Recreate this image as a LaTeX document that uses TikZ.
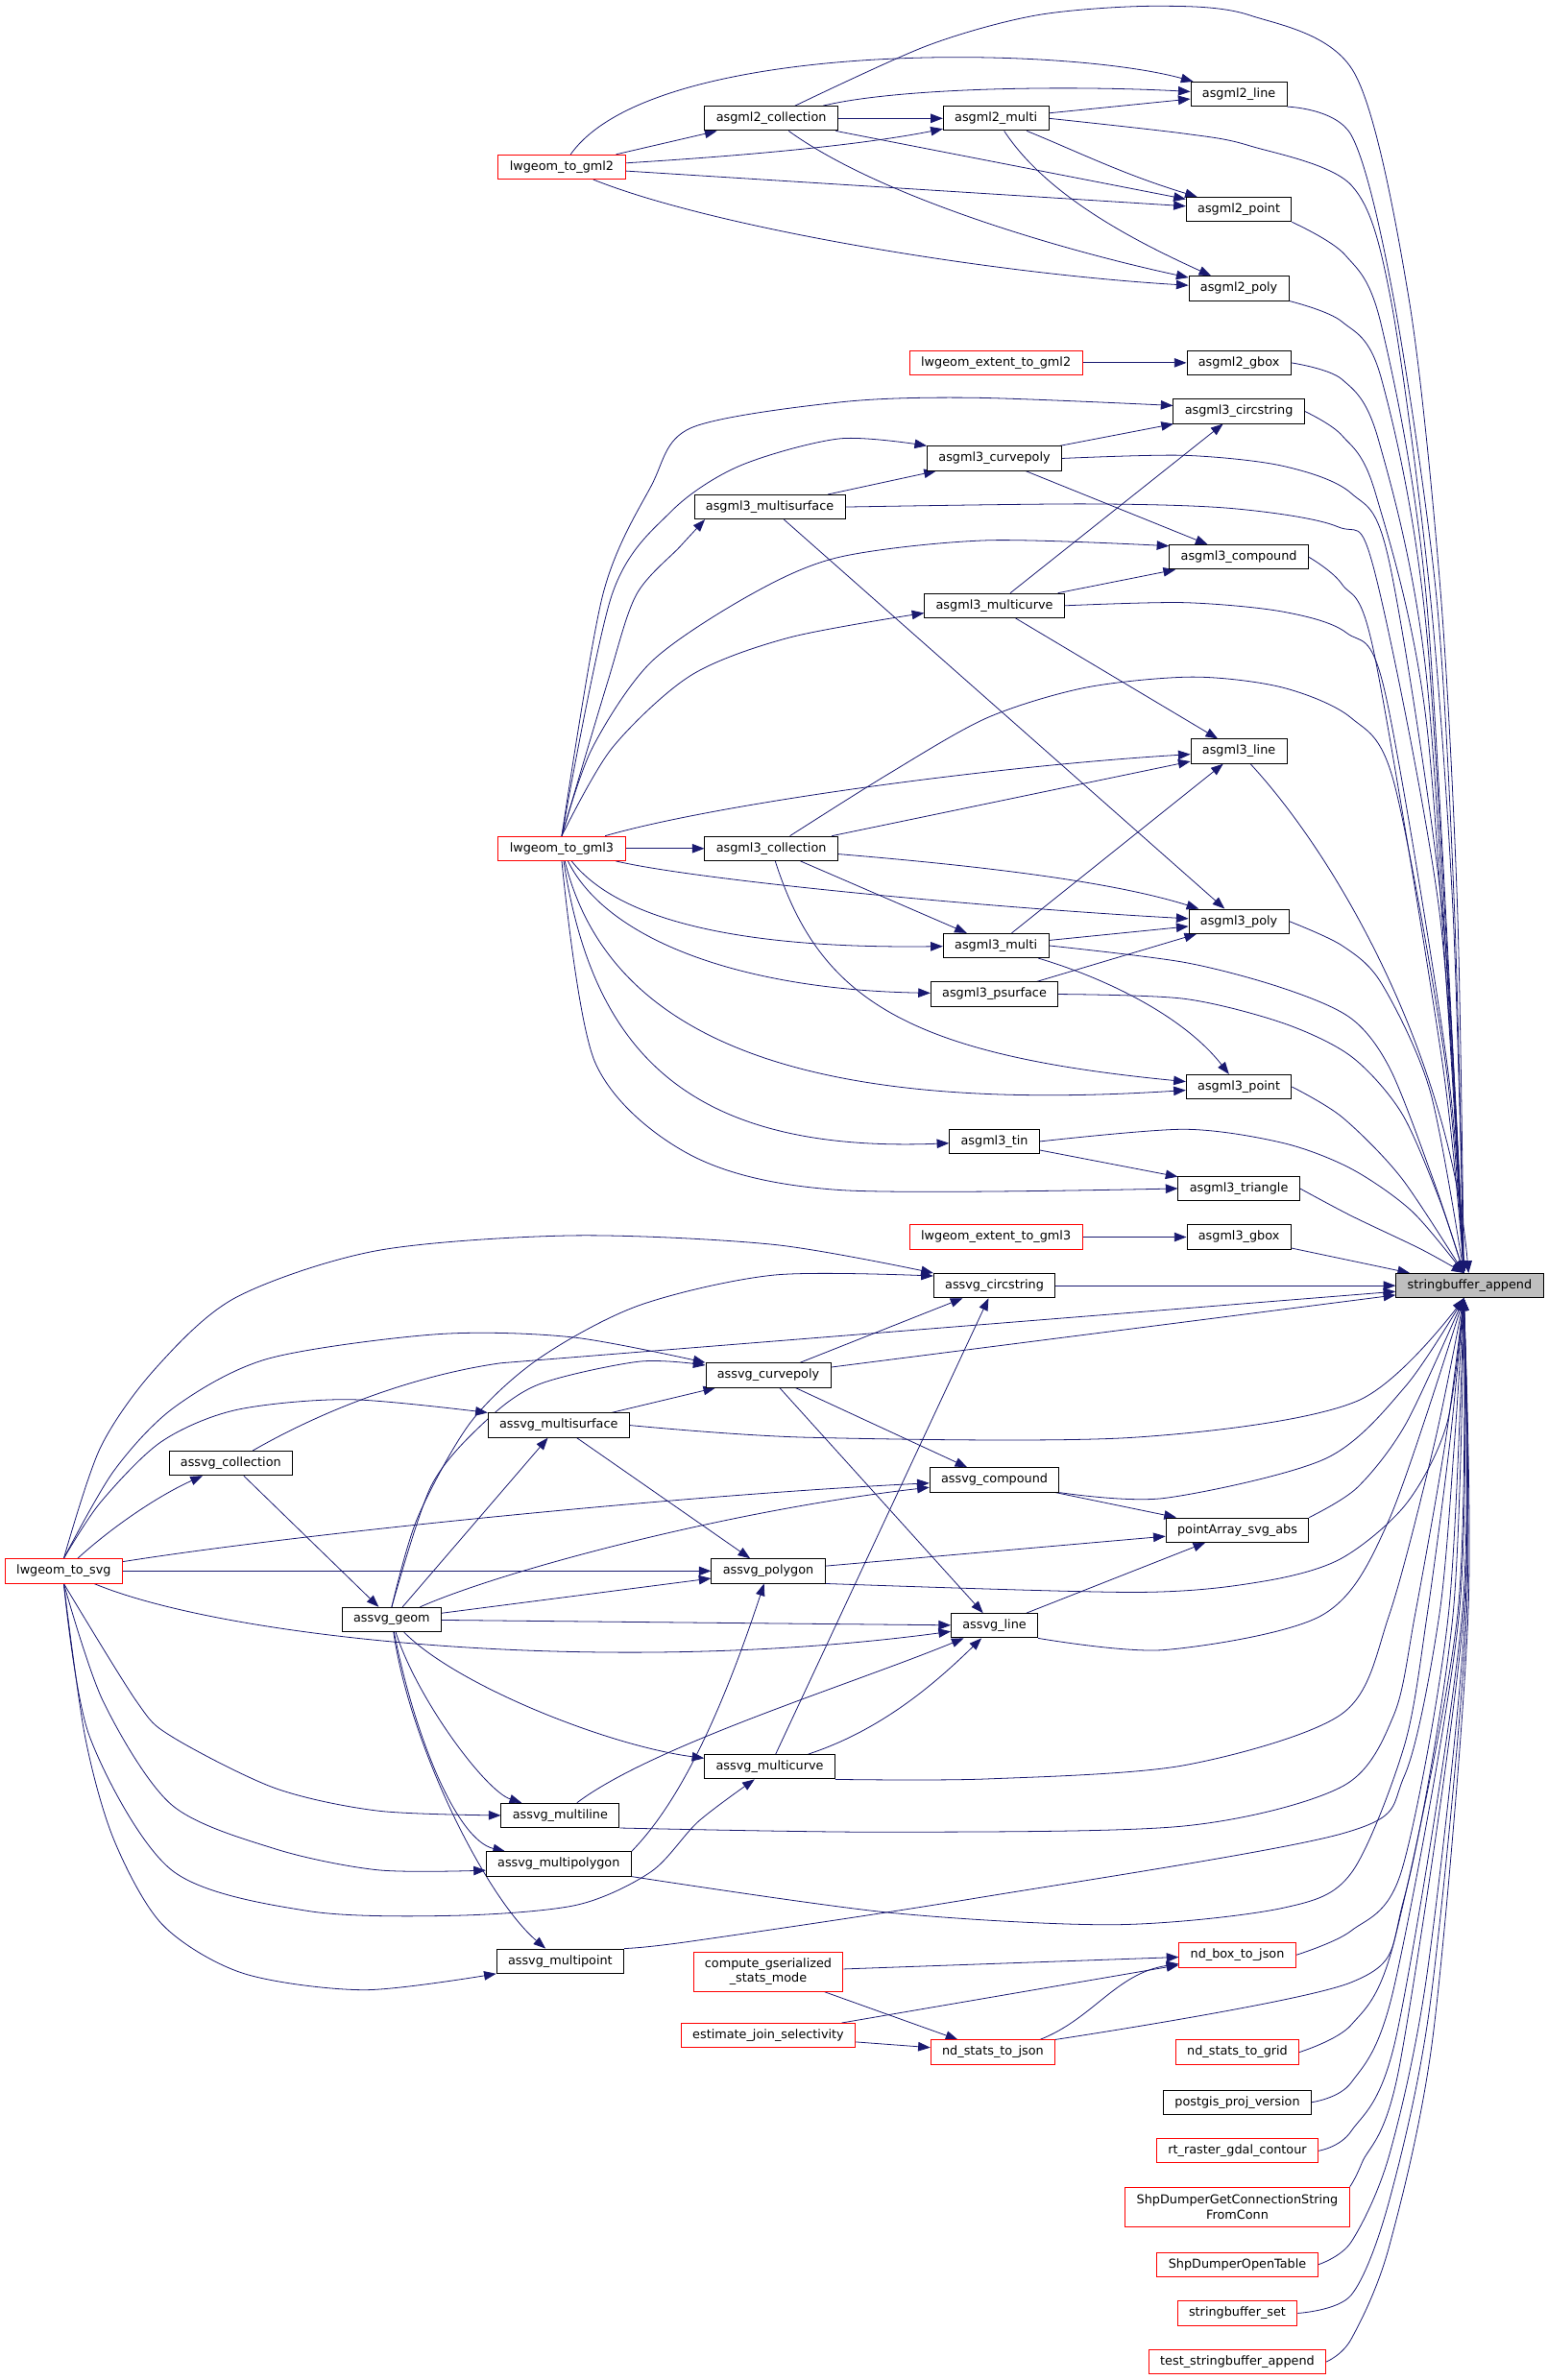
\documentclass[tikz,border=0pt]{standalone}
\usepackage{fontspec}
\setmainfont{DejaVu Sans}
\usetikzlibrary{arrows.meta}
\usetikzlibrary{backgrounds}

\definecolor{edgeblue}{HTML}{191970}
\definecolor{nodered}{HTML}{FF0000}
\definecolor{nodegray}{HTML}{BFBFBF}

\begin{document}
\begin{tikzpicture}[x=1pt, y=-1pt,
  fn/.style={draw=black, fill=white, line width=0.6pt, inner xsep=7.5pt, inner ysep=0pt,
    minimum height=16pt, align=center, font=\fontsize{8.1}{10}\selectfont},
  fnred/.style={fn, draw=nodered},
  call/.style={draw=edgeblue, line width=0.5pt, -{Triangle[length=8pt,width=6pt]}}]

  \useasboundingbox (0,0) rectangle (1019.6,1568);

  \node[fnred] (g2) at (370,110) {lwgeom\_to\_gml2};
  \node[fn] (g2col) at (508,78) {asgml2\_collection};
  \node[fn] (g2multi) at (656,78) {asgml2\_multi};
  \node[fn] (g2line) at (816,62) {asgml2\_line};
  \node[fn] (g2point) at (816,138) {asgml2\_point};
  \node[fn] (g2poly) at (816,190) {asgml2\_poly};
  \node[fnred] (ext2) at (656,239) {lwgeom\_extent\_to\_gml2};
  \node[fn] (g2gbox) at (816,239) {asgml2\_gbox};

  \node[fn] (g3circ) at (816,271) {asgml3\_circstring};
  \node[fn] (g3curvepoly) at (655,302) {asgml3\_curvepoly};
  \node[fn] (g3msurf) at (507,334) {asgml3\_multisurface};
  \node[fn] (g3comp) at (816,367) {asgml3\_compound};
  \node[fn] (g3mcurve) at (655,399) {asgml3\_multicurve};
  \node[fn] (g3line) at (816,495) {asgml3\_line};
  \node[fnred] (g3) at (370,559) {lwgeom\_to\_gml3};
  \node[fn] (g3col) at (508,559) {asgml3\_collection};
  \node[fn] (g3poly) at (816,607) {asgml3\_poly};
  \node[fn] (g3multi) at (656,623) {asgml3\_multi};
  \node[fn] (g3psurf) at (655,655) {asgml3\_psurface};
  \node[fn] (g3point) at (816,716) {asgml3\_point};
  \node[fn] (g3tin) at (655,752) {asgml3\_tin};
  \node[fn] (g3tri) at (816,783) {asgml3\_triangle};
  \node[fnred] (ext3) at (656,815) {lwgeom\_extent\_to\_gml3};
  \node[fn] (g3gbox) at (816,815) {asgml3\_gbox};

  \node[fn, fill=nodegray] (sb) at (968,847) {stringbuffer\_append};

  \node[fn] (svcirc) at (655,847) {assvg\_circstring};
  \node[fn] (svcurvepoly) at (506,906) {assvg\_curvepoly};
  \node[fn] (svmsurf) at (368,939) {assvg\_multisurface};
  \node[fn] (svcol) at (152,964) {assvg\_collection};
  \node[fn] (svcomp) at (655,975) {assvg\_compound};
  \node[fn] (ptabs) at (815,1008) {pointArray\_svg\_abs};
  \node[fnred] (svg) at (42,1035) {lwgeom\_to\_svg};
  \node[fn] (svpoly) at (506,1035) {assvg\_polygon};
  \node[fn] (svgeom) at (258,1067) {assvg\_geom};
  \node[fn] (svline) at (655,1071) {assvg\_line};
  \node[fn] (svmcurve) at (507,1164) {assvg\_multicurve};
  \node[fn] (svmline) at (369,1196) {assvg\_multiline};
  \node[fn] (svmpoly) at (368,1228) {assvg\_multipolygon};
  \node[fn] (svmpoint) at (369,1292) {assvg\_multipoint};

  \node[fnred, minimum height=26pt] (cgsm) at (506,1299) {compute\_gserialized\\\_stats\_mode};
  \node[fnred] (ndbox) at (815,1288) {nd\_box\_to\_json};
  \node[fnred] (ejs) at (506,1341) {estimate\_join\_selectivity};
  \node[fnred] (ndjson) at (654,1352) {nd\_stats\_to\_json};
  \node[fnred] (ndgrid) at (815,1352) {nd\_stats\_to\_grid};
  \node[fn] (projver) at (815,1385) {postgis\_proj\_version};
  \node[fnred] (gdalc) at (815,1417) {rt\_raster\_gdal\_contour};
  \node[fnred, minimum height=26pt] (shpconn) at (815,1454) {ShpDumperGetConnectionString\\FromConn};
  \node[fnred] (shpopen) at (815,1492) {ShpDumperOpenTable};
  \node[fnred] (sbset) at (815,1524) {stringbuffer\_set};
  \node[fnred] (testsb) at (815,1556) {test\_stringbuffer\_append};

  \begin{scope}[on background layer]

  \draw[call] (g2) .. controls (430,25) and (700,30) .. (g2line);
  \draw[call] (g2) -- (g2col);
  \draw[call] (g2) .. controls (500,102) and (570,95) .. (g2multi);
  \draw[call] (g2) -- (g2point);
  \draw[call] (g2) .. controls (470,150) and (650,180) .. (g2poly);
  \draw[call] (g2col) .. controls (590,58) and (700,56) .. (g2line);
  \draw[call] (g2col) -- (g2multi);
  \draw[call] (g2col) -- (g2point);
  \draw[call] (g2col) .. controls (580,130) and (700,165) .. (g2poly);
  \draw[call] (g2multi) -- (g2line);
  \draw[call] (g2multi) .. controls (710,100) and (740,115) .. (g2point);
  \draw[call] (g2multi) .. controls (690,130) and (750,160) .. (g2poly);
  \draw[call] (ext2) -- (g2gbox);

  \draw[call] plot[smooth] coordinates {(g3.north) (397,392) (429,320) (455,282) (553,265) (640,262) (g3circ.175)};
  \draw[call] plot[smooth] coordinates {(g3.north) (403,392) (442,337) (487,307) (553,289) (g3curvepoly.north west)};
  \draw[call] plot[smooth] coordinates {(g3.north) (400,450) (419,392) (448,360) (g3msurf.191)};
  \draw[call] plot[smooth] coordinates {(g3.north) (390,493) (429,436) (494,392) (553,367) (650,356) (g3comp.171)};
  \draw[call] plot[smooth] coordinates {(g3.north) (403,493) (455,445) (520,420) (g3mcurve.186)};
  \draw[call] (g3) .. controls (470,530) and (650,505) .. (g3line);
  \draw[call] (g3) -- (g3col);
  \draw[call] (g3) .. controls (460,580) and (650,598) .. (g3poly);
  \draw[call] (g3) .. controls (410,610) and (500,625) .. (g3multi);
  \draw[call] (g3) .. controls (400,620) and (490,652) .. (g3psurf);
  \draw[call] (g3) .. controls (400,680) and (520,735) .. (g3point);
  \draw[call] (g3) .. controls (390,690) and (450,760) .. (g3tin);
  \draw[call] plot[smooth] coordinates {(g3.south) (392,700) (455,761) (553,784) (g3tri.west)};
  \draw[call] (g3col) -- (g3line);
  \draw[call] (g3col) .. controls (640,570) and (730,580) .. (g3poly);
  \draw[call] (g3col) -- (g3multi);
  \draw[call] (g3col) .. controls (540,660) and (600,695) .. (g3point);
  \draw[call] (g3curvepoly) -- (g3circ);
  \draw[call] (g3curvepoly) -- (g3comp);
  \draw[call] (g3msurf) -- (g3curvepoly);
  \draw[call] (g3msurf) -- (g3poly);
  \draw[call] (g3mcurve) -- (g3comp);
  \draw[call] (g3mcurve) -- (g3circ);
  \draw[call] (g3mcurve) -- (g3line);
  \draw[call] (g3multi) -- (g3poly);
  \draw[call] (g3multi) -- (g3line);
  \draw[call] (g3multi) .. controls (730,645) and (780,670) .. (g3point);
  \draw[call] (g3psurf) -- (g3poly);
  \draw[call] (g3tin) -- (g3tri);
  \draw[call] (ext3) -- (g3gbox);

  \draw[call] plot[smooth] coordinates {(g2col.28) (611,30) (683,10) (760,4) (823,10) (892,48) (928,197) (949,392) (960,600) (sb.115)};
  \draw[call] plot[smooth] coordinates {(g2line.south east) (890,89) (918,197) (946,392) (958,600) (sb.115)};
  \draw[call] plot[smooth] coordinates {(g2multi.east) (780,88) (823,96) (890,122) (916,197) (942,392) (957,600) (sb.115)};
  \draw[call] plot[smooth] coordinates {(g2point.south east) (886,168) (910,215) (940,400) (sb.115)};
  \draw[call] plot[smooth] coordinates {(g2poly.south east) (884,212) (910,250) (940,420) (sb.115)};
  \draw[call] plot[smooth] coordinates {(g2gbox.east) (884,250) (908,290) (940,450) (sb.115)};
  \draw[call] plot[smooth] coordinates {(g3circ.east) (884,287) (906,325) (940,480) (sb.115)};
  \draw[call] plot[smooth] coordinates {(g3curvepoly.east) (780,300) (845,307) (890,325) (915,370) (950,600) (sb.115)};
  \draw[call] plot[smooth] coordinates {(g3msurf.east) (715,332) (812,335) (881,347) (905,375) (948,600) (sb.115)};
  \draw[call] plot[smooth] coordinates {(g3comp.east) (884,385) (905,430) (950,700) (sb.115)};
  \draw[call] plot[smooth] coordinates {(g3mcurve.east) (780,397) (845,403) (887,417) (912,455) (953,700) (sb.115)};
  \draw[call] plot[smooth] coordinates {(g3col.34) (585,510) (650,473) (715,453) (786,446) (845,453) (890,473) (918,515) (952,700) (sb.115)};
  \draw[call] (g3line) .. controls (885,570) and (955,700) .. (sb);
  \draw[call] plot[smooth] coordinates {(g3poly.east) (884,623) (910,648) (942,719) (sb.115)};
  \draw[call] plot[smooth] coordinates {(g3multi.east) (780,634) (845,651) (890,671) (916,705) (945,780) (sb.115)};
  \draw[call] plot[smooth] coordinates {(g3psurf.east) (780,658) (845,674) (890,696) (923,733) (948,790) (sb.115)};
  \draw[call] plot[smooth] coordinates {(g3point.east) (884,736) (923,776) (sb.115)};
  \draw[call] plot[smooth] coordinates {(g3tin.east) (780,744) (845,753) (890,770) (930,798) (sb.115)};
  \draw[call] plot[smooth] coordinates {(g3tri.east) (890,801) (936,823) (sb.115)};
  \draw[call] (g3gbox) -- (sb);

  \draw[call] plot[smooth] coordinates {(svg.north) (66,954) (102,902) (155,855) (248,824) (377,814) (510,820) (svcirc.north west)};
  \draw[call] plot[smooth] coordinates {(svg.north) (75,969) (115,927) (177,895) (288,879) (377,881) (svcurvepoly.north west)};
  \draw[call] plot[smooth] coordinates {(svg.north) (66,990) (106,950) (155,929) (230,922) (svmsurf.north west)};
  \draw[call] (svg) .. controls (75,1005) and (105,985) .. (svcol);
  \draw[call] (svg) .. controls (200,1010) and (450,985) .. (svcomp);
  \draw[call] (svg) -- (svpoly);
  \draw[call] (svg) .. controls (150,1080) and (400,1105) .. (svline);
  \draw[call] plot[smooth] coordinates {(svg.south) (90,1121) (113,1144) (181,1178) (249,1193) (svmline.west)};
  \draw[call] plot[smooth] coordinates {(svg.south) (68,1121) (113,1189) (181,1218) (249,1232) (svmpoly.185)};
  \draw[call] plot[smooth] coordinates {(svg.south) (59,1144) (113,1232) (203,1259) (300,1262) (380,1255) (429,1233) (460,1200) ([xshift=-10pt]svmcurve.south)};
  \draw[call] plot[smooth] coordinates {(svg.south) (56,1144) (75,1212) (107,1268) (160,1300) (240,1311) (svmpoint.south west)};

  \draw[call] plot[smooth] coordinates {(svgeom.north) (275,1000) (310,937) (355,895) (421,860) (510,840) (svcirc.171)};
  \draw[call] plot[smooth] coordinates {(svgeom.north) (284,979) (319,937) (355,912) (421,897) (svcurvepoly.171)};
  \draw[call] (svgeom) -- (svmsurf);
  \draw[call] (svgeom) .. controls (330,1035) and (480,995) .. (svcomp);
  \draw[call] (svgeom) -- (svpoly);
  \draw[call] (svgeom) -- (svline);
  \draw[call] (svgeom) .. controls (300,1110) and (400,1150) .. (svmcurve);
  \draw[call] (svgeom) .. controls (275,1120) and (320,1180) .. (svmline);
  \draw[call] (svgeom) .. controls (272,1140) and (300,1212) .. (svmpoly);
  \draw[call] (svgeom) .. controls (270,1150) and (320,1250) .. (svmpoint);

  \draw[call] (svcol) -- (svgeom);
  \draw[call] (svcol) .. controls (220,925) and (280,905) .. (330,898) -- (sb);
  \draw[call] (svmsurf) -- (svcurvepoly);
  \draw[call] (svmsurf) -- (svpoly);
  \draw[call] (svcurvepoly) -- (svcirc);
  \draw[call] (svcurvepoly) -- (svcomp);
  \draw[call] (svcurvepoly) -- (svline);
  \draw[call] (svcurvepoly) -- (sb);
  \draw[call] (svcirc) -- (sb);
  \draw[call] (svcomp) -- (ptabs);
  \draw[call] (svpoly) -- (ptabs);
  \draw[call] (svline) -- (ptabs);
  \draw[call] (svmcurve) -- (svcirc);
  \draw[call] (svmcurve) .. controls (580,1140) and (615,1110) .. (svline);
  \draw[call] (svmline) .. controls (430,1150) and (560,1110) .. (svline);
  \draw[call] (svmpoly.north east) .. controls (435,1200) and (465,1160) .. (svpoly);

  \draw[call] plot[smooth] coordinates {(svmsurf.east) (532,947) (747,947) (894,923) (sb.-115)};
  \draw[call] plot[smooth] coordinates {(svcomp.south east) (767,987) (873,961) (926,913) (sb.-115)};
  \draw[call] plot[smooth] coordinates {(ptabs.north east) (894,980) (926,938) (sb.-115)};
  \draw[call] plot[smooth] coordinates {(svpoly.south east) (748,1049) (831,1042) (883,1027) (926,991) (953,938) (sb.-115)};
  \draw[call] plot[smooth] coordinates {(svline.south east) (767,1087) (871,1064) (915,1001) (sb.-115)};
  \draw[call] plot[smooth] coordinates {(svmcurve.south east) (650,1172) (780,1163) (884,1129) (915,1064) (945,950) (sb.-115)};
  \draw[call] plot[smooth] coordinates {(svmline.south east) (585,1207) (780,1203) (884,1177) (918,1130) (932,1064) (952,950) (sb.-115)};
  \draw[call] plot[smooth] coordinates {(svmpoly.south east) (585,1260) (735,1268) (845,1257) (890,1234) (925,1150) (940,1064) (955,950) (sb.-115)};
  \draw[call] plot[smooth] coordinates {(svmpoint.north east) (455,1279) (640,1251) (884,1208) (925,1170) (948,1064) (958,950) (sb.-115)};

  \draw[call] (cgsm) -- (ndbox);
  \draw[call] (cgsm) -- (ndjson);
  \draw[call] (ejs) -- (ndbox);
  \draw[call] (ejs) -- (ndjson);
  \draw[call] (ndjson.15) .. controls (720,1330) and (735,1300) .. (ndbox);

  \draw[call] plot[smooth] coordinates {(ndbox.east) (890,1272) (923,1233) (954,1064) (sb.-115)};
  \draw[call] plot[smooth] coordinates {(ndjson.north east) (890,1306) (925,1250) (957,1064) (sb.-115)};
  \draw[call] plot[smooth] coordinates {(ndgrid.east) (890,1334) (918,1280) (960,1064) (sb.-115)};
  \draw[call] plot[smooth] coordinates {(projver.east) (890,1372) (918,1310) (961,1064) (sb.-115)};
  \draw[call] plot[smooth] coordinates {(gdalc.east) (890,1404) (920,1340) (963,1064) (sb.-115)};
  \draw[call] plot[smooth] coordinates {(shpconn.north east) (897,1425) (922,1360) (964,1064) (sb.-115)};
  \draw[call] plot[smooth] coordinates {(shpopen.east) (890,1477) (915,1420) (940,1300) (965,1064) (sb.-115)};
  \draw[call] plot[smooth] coordinates {(sbset.east) (890,1512) (915,1450) (942,1320) (966,1064) (sb.-115)};
  \draw[call] plot[smooth] coordinates {(testsb.east) (890,1541) (915,1480) (944,1340) (967,1064) (sb.-115)};

  \end{scope}

\end{tikzpicture}
\end{document}
